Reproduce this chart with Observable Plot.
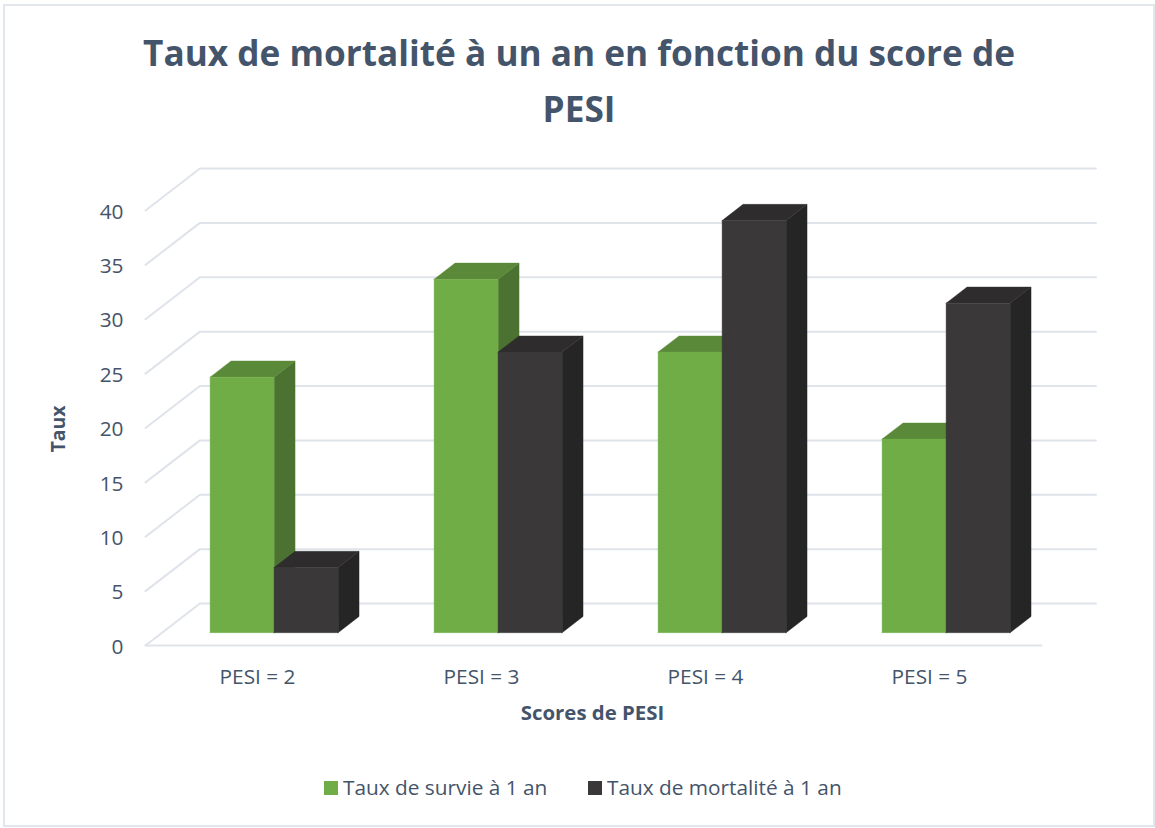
<!DOCTYPE html>
<html lang="fr">
<head>
<meta charset="utf-8">
<script src="https://cdn.jsdelivr.net/npm/d3@7"></script>
<script src="https://cdn.jsdelivr.net/npm/@observablehq/plot@0.6"></script>
<style>
  html, body { margin: 0; padding: 0; background: #fff; }
  #wrap { position: relative; width: 1155px; height: 828px; overflow: hidden; font-family: "Open Sans", sans-serif; color: #44546a; }
  #frame { position: absolute; left: 3px; top: 4px; width: 1148px; height: 819px; border: 2px solid #e2e7ee; box-sizing: content-box; }
  #title { position: relative; height: 130px; padding-top: 24px; box-sizing: border-box; text-align: center; font-size: 35.2px; line-height: 56px; font-weight: 700; width: 1158px; }
  #chart { position: relative; height: 610px; }
  #chart svg { display: block; overflow: visible; background: transparent; }
  #legend { position: absolute; top: 774px; left: 0; width: 100%; height: 26px; font-size: 20.8px; line-height: 26px; }
  .item { position: absolute; top: 0; white-space: nowrap; }
  .sw { position: absolute; left: 0; top: 7px; width: 14px; height: 14px; }
  .lb { position: absolute; left: 19px; top: 0; }
</style>
</head>
<body>
<div id="wrap">
  <div id="frame"></div>
  <div id="title">Taux de mortalité à un an en fonction du score de<br>PESI</div>
  <div id="chart"></div>
  <div id="legend"></div>
</div>
<script>
const categories = ["PESI = 2", "PESI = 3", "PESI = 4", "PESI = 5"];
const survie = [23.5, 32.5, 25.8, 17.8];
const mortalite = [6.0, 25.8, 37.9, 30.3];
const yTicks = [0, 5, 10, 15, 20, 25, 30, 35, 40];
const seriesNames = ["Taux de survie à 1 an", "Taux de mortalité à 1 an"];
const seriesValues = [survie, mortalite];
const frontColors = ["#70ad47", "#3a3838"];
const topColors = ["#5a8a39", "#2e2c2c"];
const sideColors = ["#4b7230", "#262525"];

const gridColor = "#dfe3ea";
const textColor = "#44546a";

// Oblique projection: depth 0 = front floor edge, depth 1 = back wall.
const depthX = 0.243, depthY = 3.86;
const P = (x, y, d) => ({x: x + d * depthX, y: y + d * depthY});
const barFront = 0.305, barBack = 0.69, barHalf = 0.2857;

const marks = [];

// Walls and floor grid
for (const t of yTicks) {
  marks.push(Plot.line([P(-0.5, t, 0), P(-0.5, t, 1), P(3.5, t, 1)],
    {x: "x", y: "y", stroke: gridColor, strokeWidth: 2, curve: "linear"}));
}
marks.push(Plot.line([P(-0.5, 0, 0), P(3.5, 0, 0)],
  {x: "x", y: "y", stroke: gridColor, strokeWidth: 2}));

const poly = (pts, fill) => Plot.line([...pts, pts[0]], {x: "x", y: "y", fill, stroke: fill, strokeWidth: 0.4});

// Bars
categories.forEach((_, i) => {
  const cx = i;
  seriesValues.forEach((vals, s) => {
    const v = vals[i];
    const x0 = s === 0 ? cx - barHalf : cx;
    const x1 = s === 0 ? cx : cx + barHalf;
    // side face
    marks.push(poly([P(x1, 0, barFront), P(x1, 0, barBack), P(x1, v, barBack), P(x1, v, barFront)], sideColors[s]));
    // top face
    marks.push(poly([P(x0, v, barFront), P(x1, v, barFront), P(x1, v, barBack), P(x0, v, barBack)], topColors[s]));
    // front face
    marks.push(poly([P(x0, 0, barFront), P(x1, 0, barFront), P(x1, v, barFront), P(x0, v, barFront)], frontColors[s]));
  });
});

// Axes
marks.push(Plot.axisY(yTicks, {anchor: "left", tickSize: 0, tickPadding: 22, dy: 1.5, label: null, fontSize: 20.8, color: textColor}));
marks.push(Plot.axisX([0, 1, 2, 3], {anchor: "bottom", tickSize: 0, tickPadding: 23, dy: 1, label: null, fontSize: 20.8, color: textColor,
  tickFormat: i => categories[i]}));

// Axis titles
marks.push(Plot.text(["Taux"], {frameAnchor: "left", textAnchor: "middle", rotate: -90, dx: -87, dy: 1, fontSize: 19.5, fontWeight: 700, fill: textColor}));
marks.push(Plot.text(["Scores de PESI"], {frameAnchor: "bottom", dy: 74, dx: -1, fontSize: 20.4, fontWeight: 700, fill: textColor}));

const chart = Plot.plot({
  width: 1155,
  height: 610,
  marginLeft: 145,
  marginRight: 114,
  marginTop: 80,
  marginBottom: 95,
  x: {domain: [-0.5, 3.5], axis: null},
  y: {domain: [0, 40], axis: null},
  style: {fontFamily: '"Open Sans", sans-serif', background: "transparent", overflow: "visible"},
  marks
});
document.getElementById("chart").appendChild(chart);

// Legend
const legend = document.getElementById("legend");
[324, 588].forEach((left, s) => {
  const item = document.createElement("div");
  item.className = "item";
  item.style.left = left + "px";
  const sw = document.createElement("div");
  sw.className = "sw";
  sw.style.background = frontColors[s];
  const lb = document.createElement("div");
  lb.className = "lb";
  lb.textContent = seriesNames[s];
  item.append(sw, lb);
  legend.appendChild(item);
});
</script>
</body>
</html>
